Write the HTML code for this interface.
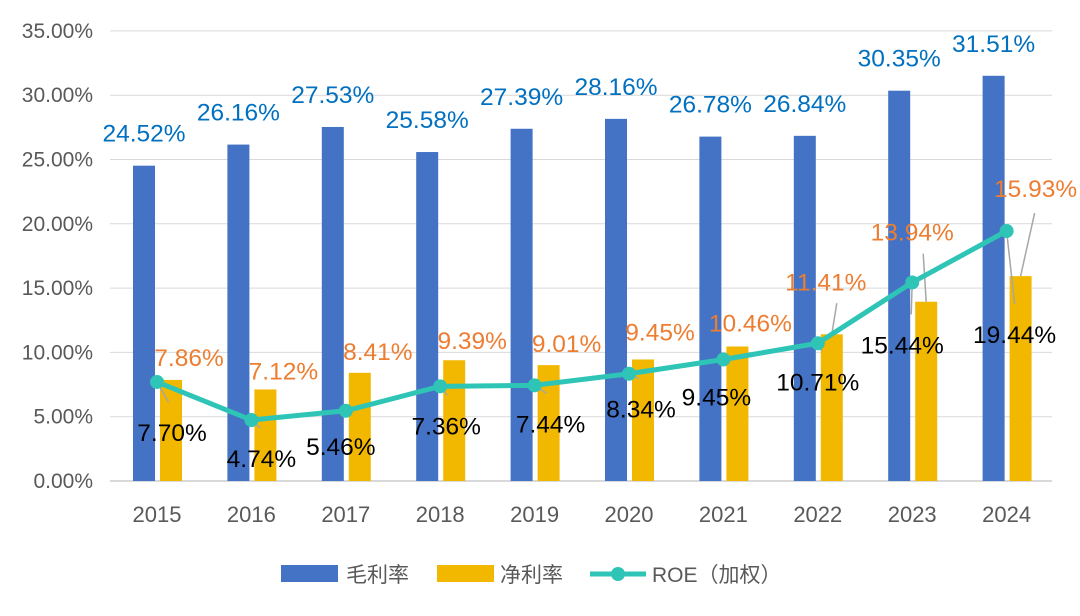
<!DOCTYPE html>
<html><head><meta charset="utf-8"><style>
body{margin:0;background:#fff;}
svg text{font-family:"Liberation Sans","Noto Sans CJK SC",sans-serif;}
</style></head><body>
<svg id="chart" width="1080" height="611" viewBox="0 0 1080 611" xmlns="http://www.w3.org/2000/svg"></svg>
<script>
const years=["2015","2016","2017","2018","2019","2020","2021","2022","2023","2024"];
const gross=[24.52,26.16,27.53,25.58,27.39,28.16,26.78,26.84,30.35,31.51];
const net=[7.86,7.12,8.41,9.39,9.01,9.45,10.46,11.41,13.94,15.93];
const roe=[7.70,4.74,5.46,7.36,7.44,8.34,9.45,10.71,15.44,19.44];
const yTicks=[0,5,10,15,20,25,30,35];
// label offsets (styling)
const netDx=[19,19,19,19,19,18,14,-5,-13,16];
const netDy=[-23,-19,-22,-20,-22,-28,-24,-53,-70,-88];
const roeDx=[15,10,-5,6,16,12,-7,0,-10,8];
const roeDy=[50,38,35,39,38,35,37,38,62,103];

const svg=document.getElementById('chart');
const NS='http://www.w3.org/2000/svg';
const y0=481,pxPer=64.3/5;
const yS=v=>y0-v*pxPer;
const xC=i=>157+i*94.4;
function el(t,a,txt){const e=document.createElementNS(NS,t);for(const k in a)e.setAttribute(k,a[k]);if(txt!=null)e.textContent=txt;svg.appendChild(e);return e;}

yTicks.forEach(t=>{
  const g=el('line',{x1:110,x2:1052,y1:yS(t),y2:yS(t),stroke:'#d9d9d9','stroke-width':t===0?2:1});
  
  
  const l=el('text',{x:93,y:yS(t)+7,'text-anchor':'end','font-size':21,fill:'#595959'},t.toFixed(2)+'%');
  
  
});
years.forEach((yr,i)=>{
  const l=el('text',{x:xC(i),y:522,'text-anchor':'middle','font-size':22,fill:'#595959'},yr);
  
  
  const b=el('rect',{x:xC(i)-24,y:yS(gross[i]),width:22,height:gross[i]*pxPer,fill:'#4472C4'});
  
  
  const n=el('rect',{x:xC(i)+3,y:yS(net[i]),width:22,height:net[i]*pxPer,fill:'#F2B800'});
  
  
});
years.forEach((yr,i)=>{
  const px=xC(i),py=yS(roe[i]);
  const ll=el('line',{x1:px,y1:py,x2:px+roeDx[i]*0.5+4,y2:py+roeDy[i]-30,stroke:'#a6a6a6','stroke-width':1.5});
  
  
  if(i>=7){
    const nx=xC(i)+14,ny=yS(net[i]);
    const nl=el('line',{x1:nx,y1:ny,x2:nx+netDx[i]+(i===9?-2:10),y2:ny+netDy[i]+(i===9?25:22),stroke:'#a6a6a6','stroke-width':1.5});
    
    
  }
});
const pts=roe.map((v,i)=>xC(i)+','+yS(v)).join(' ');
const line=el('polyline',{points:pts,fill:'none',stroke:'#2EC4B6','stroke-width':5,'stroke-linejoin':'round'});


years.forEach((yr,i)=>{
  const c=el('circle',{cx:xC(i),cy:yS(roe[i]),r:7,fill:'#2EC4B6'});
  
  
  const g=el('text',{x:xC(i)-13,y:yS(gross[i])-24,'text-anchor':'middle','font-size':24.5,fill:'#0070C0'},gross[i].toFixed(2)+'%');
  
  
  const n=el('text',{x:xC(i)+13+netDx[i],y:yS(net[i])+netDy[i]+9,'text-anchor':'middle','font-size':24.5,fill:'#ED7D31'},net[i].toFixed(2)+'%');
  
  
  const r=el('text',{x:xC(i)+roeDx[i],y:yS(roe[i])+roeDy[i]+9,'text-anchor':'middle','font-size':24.5,fill:'#000'},roe[i].toFixed(2)+'%');
  
  
});
let e;
e=el('rect',{x:281,y:565,width:57,height:17,fill:'#4472C4'});


e=el('text',{x:346,y:582,'font-size':21,fill:'#595959'},'毛利率');


e=el('rect',{x:437,y:565,width:57,height:17,fill:'#F2B800'});


e=el('text',{x:500,y:582,'font-size':21,fill:'#595959'},'净利率');


e=el('line',{x1:590,x2:646,y1:574,y2:574,stroke:'#2EC4B6','stroke-width':5});


e=el('circle',{cx:618,cy:574,r:7,fill:'#2EC4B6'});


e=el('text',{x:652,y:582,'font-size':21,fill:'#595959'},'ROE（加权）');


</script>
</body></html>
